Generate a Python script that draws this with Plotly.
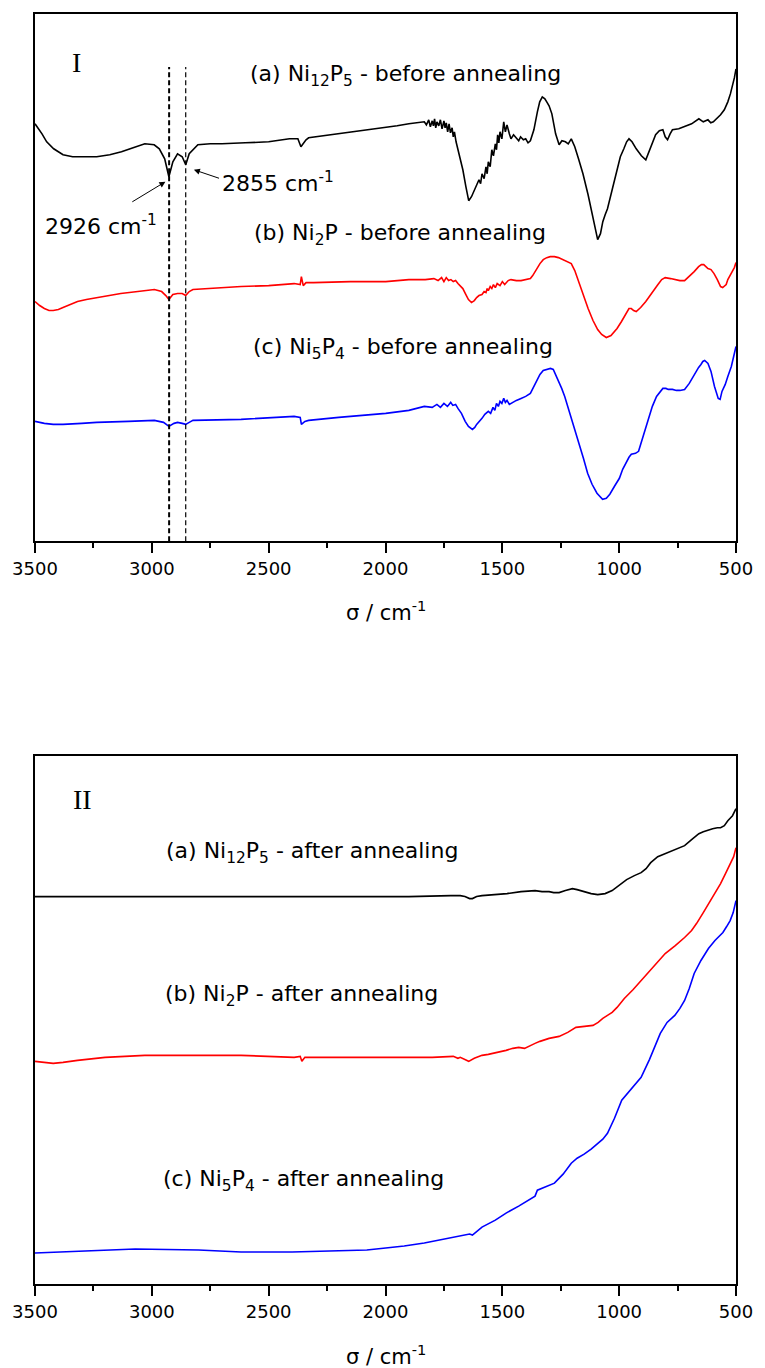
import plotly.graph_objects as go

# ---------------- Panel I : before annealing ----------------
wn_Ia = [3500, 3470, 3450, 3420, 3400, 3380, 3339, 3290, 3236, 3180, 3130, 3080, 3030, 2990, 2968, 2945, 2927,
         2910, 2890, 2870, 2855, 2840, 2803, 2750, 2700, 2600, 2500, 2411, 2375, 2362, 2352, 2340, 2329, 2200,
         2100, 2000, 1950, 1900, 1860, 1834, 1825, 1815, 1808, 1800, 1795, 1790, 1785, 1780, 1772, 1765, 1758,
         1750, 1745, 1740, 1734, 1728, 1722, 1715, 1710, 1705, 1698, 1690, 1680, 1669, 1656, 1644, 1632, 1620,
         1610, 1600, 1593, 1587, 1578, 1570, 1565, 1560, 1552, 1545, 1538, 1530, 1525, 1520, 1515, 1510, 1502,
         1494, 1487, 1480, 1470, 1463, 1452, 1440, 1430, 1422, 1410, 1400, 1390, 1380, 1365, 1350, 1340, 1329,
         1318, 1310, 1300, 1288, 1272, 1257, 1245, 1230, 1218, 1205, 1190, 1174, 1155, 1133, 1112, 1092, 1080,
         1070, 1060, 1050, 1030, 1009, 995, 980, 968, 958, 945, 927, 905, 886, 865, 844, 828, 813, 803, 793, 782,
         772, 745, 720, 690, 659, 640, 620, 608, 597, 580, 566, 550, 535, 524, 514, 507, 500]
T_Ia = [418, 408, 400, 393, 390, 387, 385, 385, 385, 387, 390, 394, 398, 397, 393, 383, 365,
        380, 388, 385, 377, 388, 397, 398, 398, 399, 400, 403, 403, 395, 398, 402, 404, 408,
        411, 414, 416, 418, 419, 420, 417, 422, 415, 421, 416, 423, 414, 420, 416, 422, 413,
        421, 414, 419, 410, 418, 409, 414, 405, 410, 400, 392, 384, 372, 355, 341, 345, 352,
        356, 362, 358, 368, 363, 375, 368, 380, 375, 392, 386, 398, 392, 407, 399, 410, 403,
        420, 410, 417, 408, 403, 407, 404, 401, 405, 402, 403, 399, 401, 412, 430, 440, 445,
        443, 440, 436, 428, 408, 397, 401, 400, 398, 403, 395, 383, 368, 347, 322, 302, 308,
        320, 327, 333, 352, 373, 385, 393, 400, 403, 400, 393, 386, 382, 395, 407, 411, 412, 405, 402, 408,
        412, 413, 415, 418, 423, 420, 422, 419, 420, 424, 427, 432, 440, 448, 457, 464, 473]

wn_Ib = [3500, 3480, 3460, 3440, 3422, 3400, 3380, 3350, 3318, 3280, 3230, 3180, 3133, 3060, 2989, 2958, 2940,
         2927, 2910, 2890, 2870, 2855, 2840, 2824, 2700, 2618, 2500, 2391, 2365, 2360, 2352, 2340, 2308, 2150,
         1999, 1900, 1830, 1793, 1775, 1760, 1750, 1740, 1730, 1720, 1710, 1700, 1690, 1680, 1669, 1656, 1645,
         1632, 1620, 1610, 1600, 1587, 1578, 1570, 1565, 1560, 1552, 1545, 1538, 1530, 1522, 1510, 1500, 1490,
         1475, 1463, 1440, 1420, 1400, 1380, 1370, 1360, 1350, 1339, 1325, 1310, 1295, 1277, 1260, 1240, 1222,
         1205, 1190, 1174, 1155, 1133, 1112, 1092, 1075, 1055, 1035, 1009, 990, 968, 958, 948, 938, 927, 908,
         886, 860, 834, 818, 803, 780, 760, 740, 720, 700, 679, 660, 648, 638, 628, 620, 607, 594, 580, 566,
         557, 550, 542, 535, 525, 515, 507, 500]
T_Ib = [240, 236, 233, 231, 231, 232, 234, 237, 240, 242, 244, 246, 248, 250, 252, 250, 246,
        242, 247, 248, 248, 246, 250, 252, 254, 255, 256, 258, 257, 265, 256, 259, 259, 260,
        260, 262, 262, 263, 261, 264, 260, 264, 261, 262, 260, 261, 258, 256, 253, 247, 242,
        239, 241, 244, 246, 247, 250, 249, 253, 251, 255, 253, 257, 254, 258, 256, 260, 257,
        261, 262, 261, 261, 262, 263, 266, 270, 274, 278, 282, 284, 285, 285, 284, 282, 280,
        278, 271, 260, 247, 233, 221, 212, 207, 204, 206, 213, 220, 230, 233, 233, 231, 230, 234,
        240, 249, 257, 262, 264, 263, 262, 261, 261, 265, 270, 275, 277, 277, 275, 273, 272, 268, 262, 255,
        254, 255, 257, 262, 266, 270, 274, 279]

wn_Ic = [3500, 3460, 3422, 3380, 3300, 3236, 3100, 2989, 2950, 2927, 2905, 2890, 2870, 2855, 2840, 2824, 2618,
         2391, 2365, 2360, 2345, 2329, 2200, 1999, 1900, 1834, 1800, 1780, 1765, 1750, 1735, 1721, 1712, 1700,
         1690, 1675, 1659, 1645, 1628, 1618, 1610, 1598, 1587, 1575, 1560, 1550, 1540, 1532, 1525, 1517, 1510,
         1502, 1494, 1487, 1480, 1470, 1463, 1440, 1420, 1400, 1380, 1360, 1339, 1325, 1310, 1294, 1282, 1270,
         1258, 1246, 1233, 1220, 1208, 1195, 1175, 1153, 1135, 1116, 1095, 1071, 1055, 1040, 1020, 999, 985, 968,
         958, 948, 930, 917, 900, 875, 858, 840, 825, 813, 800, 790, 772, 755, 740, 720, 700, 679, 660, 650, 642,
         634, 620, 607, 592, 576, 568, 560, 553, 546, 535, 520, 510, 500]
T_Ic = [120, 118, 117, 117, 118, 119, 120, 121, 119, 115, 118, 119, 118, 117, 119, 121, 122,
        125, 124, 117, 120, 121, 124, 128, 131, 135, 134, 137, 134, 138, 135, 139, 136, 137,
        133, 128, 120, 115, 112, 114, 117, 120, 123, 127, 130, 128, 134, 131, 138, 135, 140,
        138, 143, 139, 141, 137, 138, 141, 143, 145, 148, 157, 167, 171, 172, 173, 172, 166,
        160, 153, 145, 135, 126, 117, 100, 83, 68, 57, 48, 42, 43, 47, 55, 63, 72, 80,
        84, 87, 88, 90, 103, 123, 135, 145, 150, 153, 153, 152, 152, 151, 151, 152, 158, 167, 174, 177, 180,
        181, 178, 170, 155, 143, 142, 150, 153, 157, 165, 175, 185, 195]

# ---------------- Panel II : after annealing ----------------
wn_IIa = [3500, 3300, 3000, 2600, 2200, 1900, 1720, 1680, 1660, 1640, 1628, 1610, 1587, 1530, 1480, 1420, 1360,
          1330, 1300, 1280, 1257, 1230, 1200, 1180, 1153, 1120, 1092, 1060, 1030, 1000, 968, 935, 906, 885, 865,
          835, 803, 760, 720, 690, 659, 640, 618, 600, 580, 566, 550, 535, 515, 500]
T_IIa = [388, 388, 388, 388, 388, 388, 389, 389, 388, 386, 386, 388, 389, 390, 391, 393, 394,
         393, 393, 392, 392, 394, 396, 395, 393, 391, 390, 391, 394, 399, 405, 409, 412, 416, 422,
         428, 431, 435, 439, 445, 451, 453, 455, 456, 457, 457, 459, 464, 469, 476]

wn_IIb = [3500, 3460, 3422, 3380, 3318, 3200, 3030, 2800, 2618, 2391, 2365, 2358, 2345, 2329, 2000, 1800,
          1710, 1690, 1680, 1660, 1644, 1620, 1600, 1587, 1560, 1540, 1510, 1484, 1455, 1430, 1405, 1380, 1360,
          1339, 1300, 1257, 1220, 1185, 1150, 1112, 1090, 1070, 1050, 1030, 1009, 978, 940, 906, 860, 803, 760,
          720, 690, 669, 640, 618, 590, 566, 545, 525, 510, 500]
T_IIb = [223, 222, 221, 222, 224, 227, 229, 229, 229, 227, 228, 223, 227, 227, 227, 227,
         228, 226, 227, 225, 223, 226, 228, 229, 230, 231, 233, 234, 236, 237, 236, 239, 241,
         243, 246, 248, 252, 257, 258, 259, 262, 266, 269, 272, 277, 286, 295, 304, 317, 331, 339,
         347, 354, 361, 372, 381, 391, 401, 411, 421, 428, 437]

wn_IIc = [3500, 3400, 3300, 3071, 2800, 2618, 2400, 2164, 2080, 1999, 1920, 1834, 1750, 1690, 1669, 1640, 1628,
          1600, 1587, 1530, 1484, 1430, 1380, 1360, 1350, 1310, 1277, 1240, 1205, 1180, 1150, 1120, 1092, 1070,
          1050, 1020, 989, 950, 906, 870, 845, 824, 795, 762, 740, 720, 700, 679, 650, 618, 590, 556, 540, 525,
          512, 500]
T_IIc = [31, 32, 33, 35, 34, 32, 32, 33, 34, 36, 38, 41, 45, 48, 49, 50, 49,
         54, 57, 64, 71, 78, 85, 88, 94, 98, 101, 110, 121, 126, 130, 135, 141, 145,
         151, 166, 184, 195, 207, 225, 240, 251, 262, 269, 276, 284, 296, 311, 324, 336, 344, 352, 358, 364,
         372, 384]

peak_marks = [2926, 2855]
x_ticks = [3500, 3000, 2500, 2000, 1500, 1000, 500]

labels_I = ["(a) Ni<sub>12</sub>P<sub>5</sub> - before annealing",
            "(b) Ni<sub>2</sub>P - before annealing",
            "(c) Ni<sub>5</sub>P<sub>4</sub> - before annealing"]
labels_II = ["(a) Ni<sub>12</sub>P<sub>5</sub> - after annealing",
             "(b) Ni<sub>2</sub>P - after annealing",
             "(c) Ni<sub>5</sub>P<sub>4</sub> - after annealing"]

BLACK, RED, BLUE = "#000000", "#ff0000", "#0000ff"
SANS = "DejaVu Sans, Arial, sans-serif"
SERIF = "Liberation Serif, Times New Roman, serif"

fig = go.Figure()
for wn, T, c in [(wn_Ia, T_Ia, BLACK), (wn_Ib, T_Ib, RED), (wn_Ic, T_Ic, BLUE)]:
    fig.add_trace(go.Scatter(x=wn, y=T, mode="lines", line=dict(color=c, width=1.6),
                             xaxis="x", yaxis="y", showlegend=False))
for wn, T, c in [(wn_IIa, T_IIa, BLACK), (wn_IIb, T_IIb, RED), (wn_IIc, T_IIc, BLUE)]:
    fig.add_trace(go.Scatter(x=wn, y=T, mode="lines", line=dict(color=c, width=1.6),
                             xaxis="x2", yaxis="y2", showlegend=False))

# dashed reference lines
for pk, w in zip(peak_marks, [2.0, 1.2]):
    fig.add_trace(go.Scatter(x=[pk, pk], y=[0, 475], mode="lines",
                             line=dict(color=BLACK, width=w, dash="5px,3px"),
                             xaxis="x", yaxis="y", showlegend=False, hoverinfo="skip"))

xax = dict(range=[3500, 500], tickvals=x_ticks, ticks="outside", ticklen=10, tickwidth=1.5,
           tickcolor="black", showline=True, linewidth=2, linecolor="black", mirror=True,
           showgrid=False, zeroline=False,
           tickfont=dict(family=SANS, size=18, color="black"),
           minor=dict(ticks="outside", ticklen=5, tickwidth=1.5, tickcolor="black",
                      tick0=500, dtick=250, showgrid=False))
yax = dict(showticklabels=False, ticks="", showline=True, linewidth=2, linecolor="black",
           mirror=True, showgrid=False, zeroline=False)

fig.update_layout(
    width=765, height=1368,
    margin=dict(l=35, r=20, t=12, b=84),
    paper_bgcolor="white", plot_bgcolor="white",
    xaxis=dict(xax, domain=[0, 1], anchor="y"),
    yaxis=dict(yax, domain=[0.5849, 1], range=[0, 528], anchor="x"),
    xaxis2=dict(xax, domain=[0, 1], anchor="y2"),
    yaxis2=dict(yax, domain=[0, 0.4159], range=[0, 529], anchor="x2"),
)

ann = []
# Panel labels
ann.append(dict(x=3322, y=479, xref="x", yref="y", text="I", showarrow=False, yanchor="middle",
                font=dict(family=SERIF, size=28, color="black")))
ann.append(dict(x=3297, y=485, xref="x2", yref="y2", text="II", showarrow=False, yanchor="middle",
                font=dict(family=SERIF, size=28, color="black")))
# Curve labels
for (x, y), t in zip([(1915, 466), (1937, 307), (1924, 193)], labels_I):
    ann.append(dict(x=x, y=y, xref="x", yref="y", text=t, showarrow=False, yanchor="middle",
                    font=dict(family=SANS, size=22, color="black")))
for (x, y), t in zip([(2313, 432), (2359, 289), (2351, 104)], labels_II):
    ann.append(dict(x=x, y=y, xref="x2", yref="y2", text=t, showarrow=False, yanchor="middle",
                    font=dict(family=SANS, size=22, color="black")))
# Peak labels
ann.append(dict(x=3217, y=317, xref="x", yref="y", text="2926 cm<sup>-1</sup>", showarrow=False,
                yanchor="middle", font=dict(family=SANS, size=22, color="black")))
ann.append(dict(x=2461, y=360, xref="x", yref="y", text="2855 cm<sup>-1</sup>", showarrow=False,
                yanchor="middle", font=dict(family=SANS, size=22, color="black")))
# Arrows
ann.append(dict(x=2942, y=360, ax=3090, ay=339, xref="x", yref="y", axref="x", ayref="y",
                text="", showarrow=True, arrowhead=2, arrowsize=1.2, arrowwidth=1, arrowcolor="black"))
ann.append(dict(x=2820, y=372, ax=2706, ay=363, xref="x", yref="y", axref="x", ayref="y",
                text="", showarrow=True, arrowhead=2, arrowsize=1.2, arrowwidth=1, arrowcolor="black"))
# Axis titles
ann.append(dict(x=0.5, y=(1284 - 610) / 1272, xref="paper", yref="paper", text="σ / cm<sup>-1</sup>",
                showarrow=False, yanchor="middle", font=dict(family=SANS, size=21, color="black")))
ann.append(dict(x=0.5, y=(1284 - 1355) / 1272, xref="paper", yref="paper", text="σ / cm<sup>-1</sup>",
                showarrow=False, yanchor="middle", font=dict(family=SANS, size=21, color="black")))

fig.update_layout(annotations=ann)
fig.write_html("out.html")
